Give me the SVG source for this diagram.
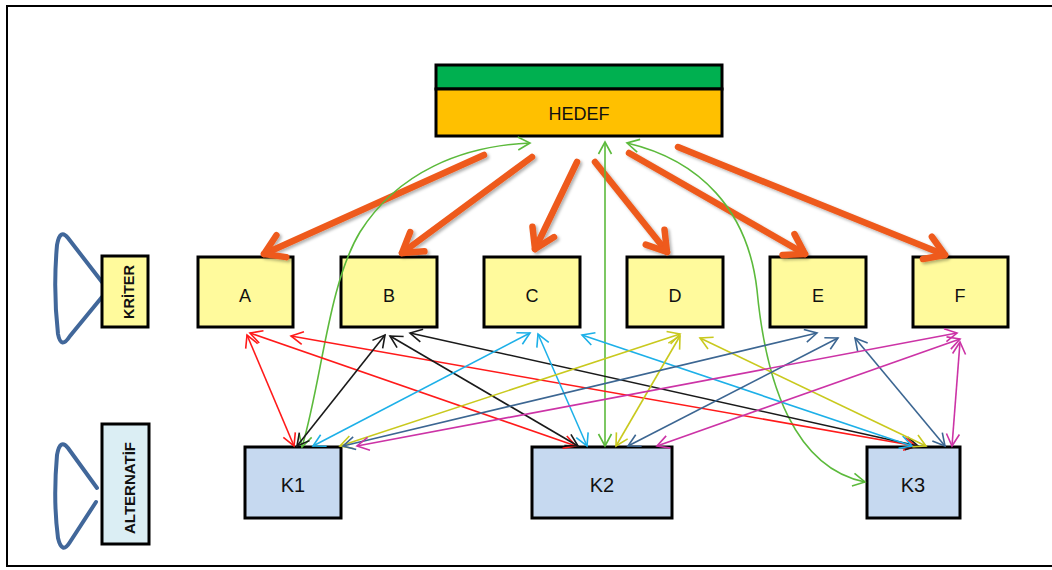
<svg xmlns="http://www.w3.org/2000/svg" width="1052" height="570" viewBox="0 0 1052 570">
<style>
.box{stroke:#000;stroke-width:3}
.crit{fill:#FFFA9C}
.alt{fill:#C6D9F0}
.lbl{font-family:"Liberation Sans",Arial,sans-serif;font-size:18px;fill:#111;text-anchor:middle;dominant-baseline:central}
.klbl{font-size:20px}
.vlbl{font-family:"Liberation Sans",Arial,sans-serif;font-size:14.5px;font-weight:bold;fill:#111;text-anchor:middle;dominant-baseline:central}
.loop{fill:none;stroke:#41679A;stroke-width:4;stroke-linecap:round;stroke-linejoin:round}
.big{fill:none;stroke:#EE5A1C;stroke-width:6.5;stroke-linecap:round;marker-end:url(#mO)}
.t{fill:none;stroke-width:1.6}
.r{stroke:#FF1A1A;marker-start:url(#mR);marker-end:url(#mR)}
.k{stroke:#1A1A1A;marker-start:url(#mK);marker-end:url(#mK)}
.c{stroke:#1DB0E8;marker-start:url(#mC);marker-end:url(#mC)}
.y{stroke:#C9C91E;marker-start:url(#mY);marker-end:url(#mY)}
.b{stroke:#3C6692;marker-start:url(#mB);marker-end:url(#mB)}
.m{stroke:#CC33A6;marker-start:url(#mM);marker-end:url(#mM)}
.g{stroke:#5CBA3C;marker-start:url(#mG);marker-end:url(#mG)}
</style>
<defs>
<filter id="sh" x="-20%" y="-20%" width="140%" height="140%">
<feDropShadow dx="2" dy="2" stdDeviation="1.5" flood-color="#000" flood-opacity="0.3"/>
</filter>
<marker id="mO" markerUnits="userSpaceOnUse" viewBox="-26 -18 32 36" refX="0" refY="0" markerWidth="32" markerHeight="36" orient="auto"><path d="M-19,-12 L0,0 L-19,12" fill="none" stroke="#EE5A1C" stroke-width="6.5" stroke-linecap="round" stroke-linejoin="round"/></marker>
<marker id="mR" markerUnits="userSpaceOnUse" viewBox="-15 -9 17 18" refX="0" refY="0" markerWidth="17" markerHeight="18" orient="auto-start-reverse"><path d="M-12,-6.5 L0,0 L-12,6.5" fill="none" stroke="#FF1A1A" stroke-width="1.6"/></marker>
<marker id="mK" markerUnits="userSpaceOnUse" viewBox="-15 -9 17 18" refX="0" refY="0" markerWidth="17" markerHeight="18" orient="auto-start-reverse"><path d="M-12,-6.5 L0,0 L-12,6.5" fill="none" stroke="#1A1A1A" stroke-width="1.6"/></marker>
<marker id="mC" markerUnits="userSpaceOnUse" viewBox="-15 -9 17 18" refX="0" refY="0" markerWidth="17" markerHeight="18" orient="auto-start-reverse"><path d="M-12,-6.5 L0,0 L-12,6.5" fill="none" stroke="#1DB0E8" stroke-width="1.6"/></marker>
<marker id="mY" markerUnits="userSpaceOnUse" viewBox="-15 -9 17 18" refX="0" refY="0" markerWidth="17" markerHeight="18" orient="auto-start-reverse"><path d="M-12,-6.5 L0,0 L-12,6.5" fill="none" stroke="#C9C91E" stroke-width="1.6"/></marker>
<marker id="mB" markerUnits="userSpaceOnUse" viewBox="-15 -9 17 18" refX="0" refY="0" markerWidth="17" markerHeight="18" orient="auto-start-reverse"><path d="M-12,-6.5 L0,0 L-12,6.5" fill="none" stroke="#3C6692" stroke-width="1.6"/></marker>
<marker id="mM" markerUnits="userSpaceOnUse" viewBox="-15 -9 17 18" refX="0" refY="0" markerWidth="17" markerHeight="18" orient="auto-start-reverse"><path d="M-12,-6.5 L0,0 L-12,6.5" fill="none" stroke="#CC33A6" stroke-width="1.6"/></marker>
<marker id="mG" markerUnits="userSpaceOnUse" viewBox="-15 -9 17 18" refX="0" refY="0" markerWidth="17" markerHeight="18" orient="auto-start-reverse"><path d="M-12,-6.5 L0,0 L-12,6.5" fill="none" stroke="#5CBA3C" stroke-width="1.6"/></marker>
</defs>
<rect width="1052" height="570" fill="#fff"/>
<path d="M1052,6 H7 V566 H1052" fill="none" stroke="#000" stroke-width="2"/>

<g id="hedef">
<rect class="box" x="436" y="65" width="286" height="24" fill="#00B050"/>
<rect class="box" x="436" y="89" width="286" height="47" fill="#FFC000"/>
<text class="lbl" x="579" y="114">HEDEF</text>
</g>

<g id="kriter">
<path class="loop" d="M102,282 L68,238 Q60,228 57,245 Q53,290 58,334 Q61,350 70,336 L102,297"/>
<rect class="box" x="102" y="256" width="46" height="71" fill="#FFFA9C"/>
<text class="vlbl" transform="translate(129,292) rotate(-90)">KRİTER</text>
</g>

<g id="alternatif">
<path class="loop" d="M97,488 L68,448 Q60,438 57,455 Q53,500 58,538 Q62,555 70,542 L96,502"/>
<rect class="box" x="102" y="424" width="47" height="120" fill="#DBEEF4"/>
<text class="vlbl" style="font-size:15px" transform="translate(129,488) rotate(-90)">ALTERNATİF</text>
</g>

<g id="A"><rect class="box crit" x="198" y="257" width="95" height="70"/><text class="lbl" x="245" y="296">A</text></g>
<g id="B"><rect class="box crit" x="341" y="257" width="96" height="70"/><text class="lbl" x="389" y="296">B</text></g>
<g id="C"><rect class="box crit" x="484" y="257" width="96" height="70"/><text class="lbl" x="532" y="296">C</text></g>
<g id="D"><rect class="box crit" x="627" y="257" width="96" height="70"/><text class="lbl" x="675" y="296">D</text></g>
<g id="E"><rect class="box crit" x="770" y="257" width="96" height="70"/><text class="lbl" x="818" y="296">E</text></g>
<g id="F"><rect class="box crit" x="913" y="257" width="95" height="70"/><text class="lbl" x="960" y="296">F</text></g>

<g id="K1"><rect class="box alt" x="245" y="447" width="96" height="71"/><text class="lbl klbl" x="293" y="485">K1</text></g>
<g id="K2"><rect class="box alt" x="532" y="447" width="140" height="71"/><text class="lbl klbl" x="602" y="485">K2</text></g>
<g id="K3"><rect class="box alt" x="867" y="447" width="93" height="71"/><text class="lbl klbl" x="913" y="485">K3</text></g>

<g id="connectors">
<g filter="url(#sh)">
<path class="big" d="M484,155 L264,254"/>
<path class="big" d="M532,157 L402,253"/>
<path class="big" d="M577,162 L535,249"/>
<path class="big" d="M595,162 L667,252"/>
<path class="big" d="M629,153 L805,254"/>
<path class="big" d="M678,147 L945,255"/>
</g>
<path class="t g" d="M302,447 C322,380 328,285 360,232 C398,172 462,146 530,143"/>
<path class="t g" d="M605,446 L605,142"/>
<path class="t g" d="M627,143 C700,160 748,210 757,290 C766,385 795,468 865,482"/>

<path class="t r" d="M247,335 L294,446"/>
<path class="t r" d="M250,333 L576,446"/>
<path class="t r" d="M291,336 L916,446"/>

<path class="t k" d="M385,335 L297,446"/>
<path class="t k" d="M390,336 L578,446"/>
<path class="t k" d="M410,333 L918,446"/>

<path class="t c" d="M530,333 L313,446"/>
<path class="t c" d="M538,334 L587,446"/>
<path class="t c" d="M582,335 L912,446"/>

<path class="t y" d="M680,334 L340,446"/>
<path class="t y" d="M680,336 L616,446"/>
<path class="t y" d="M700,338 L926,446"/>

<path class="t b" d="M817,333 L343,446"/>
<path class="t b" d="M838,338 L628,446"/>
<path class="t b" d="M855,338 L945,446"/>

<path class="t m" d="M957,333 L357,446"/>
<path class="t m" d="M960,339 L657,446"/>
<path class="t m" d="M960,342 L952,446"/>
</g>
</svg>
